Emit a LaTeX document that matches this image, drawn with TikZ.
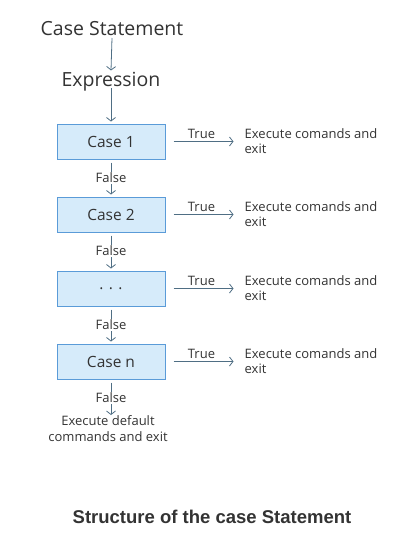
\documentclass[tikz,border=0pt]{standalone}
\usepackage{fontspec}
\setmainfont{Open Sans}
\newfontfamily\capfont{Liberation Sans}
\usetikzlibrary{arrows.meta}
\definecolor{txt}{HTML}{333333}
\definecolor{arr}{HTML}{4F6E84}
\definecolor{boxfill}{HTML}{D6EBFA}
\definecolor{boxdraw}{HTML}{5A9BD8}
\tikzset{
  casebox/.style={draw=boxdraw, fill=boxfill, line width=1pt, minimum width=108pt, minimum height=35pt, inner sep=0pt, font=\fontsize{15.5}{18}\selectfont, text=txt},
  flow/.style={draw=arr, line width=0.8pt, -{Straight Barb[length=3.5pt,width=9pt,line width=0.8pt]}},
  lbl/.style={font=\fontsize{13}{15}\selectfont, text=txt, inner sep=1pt},
  exec/.style={font=\fontsize{13}{15.5}\selectfont, text=txt, align=left, anchor=west, inner sep=0pt},
  big/.style={font=\fontsize{19.5}{22}\selectfont, text=txt, inner sep=0pt, anchor=base},
}
\begin{document}
\begin{tikzpicture}[x=1pt,y=-1pt]
\useasboundingbox (0,0) rectangle (414,560);
\node[big] (cs) at (112,35) {Case Statement};
\node[big] (ex) at (111,86) {Expression};
\node[casebox] (c1) at (111,141.5) {Case 1};
\node[casebox] (c2) at (111,214.5) {Case 2};
\node[casebox] (c3) at (111,288.5) {. . .};
\node[casebox] (c4) at (111,361.5) {Case n};
\draw[flow] ([shift={(0,3)}]cs.base) -- ([shift={(0,-1)}]ex.north);
\draw[flow] ([shift={(0,2)}]ex.base) -- ([shift={(0,-2)}]c1.north);
\foreach \a/\b in {c1/c2,c2/c3,c3/c4}{
  \draw[flow] ([shift={(0,3)}]\a.south) -- node[lbl, fill=white, pos=0.47] {False} ([shift={(0,-2)}]\b.north);
}
\node[font=\fontsize{13}{16.5}\selectfont, text=txt, align=center, inner sep=0pt, anchor=north] (def) at (108,415) {Execute default\\commands and exit};
\draw[flow] ([shift={(0,3)}]c4.south) -- node[lbl, fill=white, pos=0.47] {False} (c4.south |- def.north);
\foreach \c/\n in {c1/e1,c2/e2,c3/e3,c4/e4}{
  \node[exec] (\n) at ([shift={(79,-0.5)}]\c.east) {Execute comands and\\exit};
  \draw[flow] ([xshift=8pt]\c.east) -- node[lbl, above=1pt, xshift=-2pt] {True} ([shift={(-11,0.5)}]\n.west);
}
\node[font=\capfont\bfseries\fontsize{18.5}{22}\selectfont, text=txt] (cap) at (212,517) {Structure of the case Statement};
\end{tikzpicture}
\end{document}
